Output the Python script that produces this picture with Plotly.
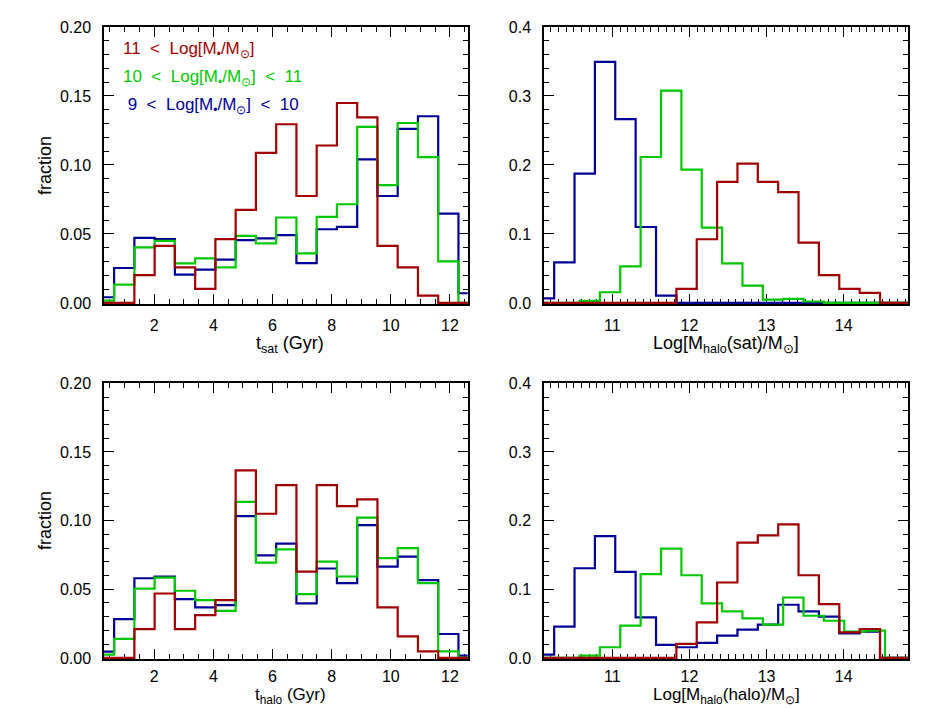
import plotly.graph_objects as go

# ---------------- data ----------------
t_centers = [0.300, 0.985, 1.670, 2.355, 3.040, 3.725, 4.410, 5.095, 5.780, 6.465,
             7.150, 7.835, 8.520, 9.205, 9.890, 10.575, 11.260, 11.945, 12.630]
t_width = 0.685

mass_centers = [10.113, 10.377, 10.641, 10.905, 11.169, 11.434, 11.698, 11.962, 12.226, 12.490,
                12.754, 13.018, 13.282, 13.546, 13.810, 14.075, 14.339, 14.603, 14.867]
mass_centers_green = [10.178, 10.442, 10.706, 10.970, 11.234, 11.499, 11.763, 12.027, 12.291, 12.555,
                      12.819, 13.083, 13.347, 13.611, 13.875, 14.140, 14.404, 14.668, 14.932]
mass_width = 0.2641

tsat_red = [0, 0, 0.0202, 0.0414, 0.0258, 0.0101, 0.0462, 0.0674, 0.1088, 0.1295,
            0.0775, 0.1141, 0.1449, 0.1345, 0.0414, 0.0258, 0.0053, 0, 0]
tsat_green = [0.0017, 0.0132, 0.0402, 0.0450, 0.0286, 0.0323, 0.0258, 0.0486, 0.0431, 0.0619,
              0.0359, 0.0623, 0.0715, 0.1276, 0.0854, 0.1304, 0.1057, 0.0301, 0]
tsat_blue = [0.0041, 0.0253, 0.0472, 0.0462, 0.0205, 0.0241, 0.0313, 0.0455, 0.0467, 0.0491,
             0.0289, 0.0534, 0.0551, 0.1040, 0.0775, 0.1261, 0.1353, 0.0647, 0.0070]

thalo_red = [0, 0, 0.0210, 0.0469, 0.0210, 0.0312, 0.0421, 0.1366, 0.1050, 0.1258,
             0.0629, 0.1258, 0.1105, 0.1154, 0.0368, 0.0157, 0.0048, 0, 0]
thalo_green = [0.0024, 0.0138, 0.0505, 0.0585, 0.0489, 0.0421, 0.0343, 0.1137, 0.0694, 0.0791,
               0.0464, 0.0701, 0.0593, 0.1021, 0.0726, 0.0800, 0.0544, 0.0048, 0]
thalo_blue = [0.0046, 0.0283, 0.0580, 0.0593, 0.0428, 0.0368, 0.0385, 0.1033, 0.0747, 0.0832,
              0.0397, 0.0651, 0.0544, 0.0967, 0.0665, 0.0738, 0.0566, 0.0174, 0.0017]

msat_red = [0, 0, 0, 0, 0, 0, 0, 0.0202, 0.0923, 0.1755,
            0.2019, 0.1755, 0.1606, 0.0875, 0.0404, 0.0202, 0.0144, 0, 0]
msat_green = [0, 0, 0.0029, 0.0154, 0.0529, 0.2115, 0.3077, 0.1933, 0.1090, 0.0572,
              0.0250, 0.0048, 0.0058, 0.0020, 0, 0, 0, 0, 0]
msat_blue = [0.0067, 0.0587, 0.1875, 0.3495, 0.2663, 0.1100, 0.0106, 0, 0, 0,
             0, 0, 0, 0, 0, 0, 0, 0, 0]

mhalo_red = [0, 0, 0, 0, 0, 0, 0, 0.0203, 0.0518, 0.1098,
             0.1679, 0.1785, 0.1944, 0.1204, 0.0783, 0.0373, 0.0421, 0, 0]
mhalo_green = [0, 0, 0.0034, 0.0155, 0.0469, 0.1219, 0.1591, 0.1204, 0.0793, 0.0677,
               0.0576, 0.0484, 0.0880, 0.0614, 0.0541, 0.0382, 0.0396, 0, 0]
mhalo_blue = [0.0048, 0.0455, 0.1306, 0.1775, 0.1253, 0.0590, 0.0189, 0.0155, 0.0218, 0.0324,
              0.0411, 0.0484, 0.0774, 0.0677, 0.0600, 0.0358, 0.0382, 0, 0]

SP = "\u00a0"
legend_labels = [f"11{SP}{SP}<{SP}{SP}Log[M<sub>•</sub>/M<sub>⊙</sub>]",
                 f"10{SP}{SP}<{SP}{SP}Log[M<sub>•</sub>/M<sub>⊙</sub>]{SP}{SP}<{SP}{SP}11",
                 f"{SP}9{SP}{SP}<{SP}{SP}Log[M<sub>•</sub>/M<sub>⊙</sub>]{SP}{SP}<{SP}{SP}10"]

RED, GREEN, BLUE = "#a00000", "#00c800", "#000096"
FONT = "Liberation Sans, Arial, sans-serif"
W, H = 945, 709
OX, OY = 8, 8   # page body offset of the rendered figure


def px(x):
    return (x - OX) / W


def py(y):
    return 1 - (y - OY) / H


def step_xy(centers, width, values):
    edges = [centers[0] - width / 2]
    for i in range(1, len(centers)):
        edges.append((centers[i - 1] + centers[i]) / 2)
    edges.append(centers[-1] + width / 2)
    return edges, list(values) + [values[-1]]


fig = go.Figure()

panels = [
    ("x", "y", t_centers, t_centers, t_width, tsat_blue, tsat_green, tsat_red),
    ("x2", "y2", mass_centers, mass_centers_green, mass_width, msat_blue, msat_green, msat_red),
    ("x3", "y3", t_centers, t_centers, t_width, thalo_blue, thalo_green, thalo_red),
    ("x4", "y4", mass_centers, mass_centers_green, mass_width, mhalo_blue, mhalo_green, mhalo_red),
]
for xa, ya, cen, cen_g, w, vb, vg, vr in panels:
    for c, v, col in ((cen, vb, BLUE), (cen_g, vg, GREEN), (cen, vr, RED)):
        ex, ey = step_xy(c, w, v)
        fig.add_trace(go.Scatter(x=ex, y=ey, mode="lines", line=dict(color=col, width=2.2, shape="hv"),
                                 xaxis=xa, yaxis=ya, showlegend=False, hoverinfo="skip"))

xl = [px(104), px(467.7)]
xr = [px(544), px(907.7)]
yt = [py(304), py(27)]
yb = [py(659), py(383.3)]

tickfont = dict(family=FONT, size=16, color="black")


def xaxis(domain, anchor, rng, dtick, minor_dtick, tick0, standoff=6):
    return dict(domain=domain, anchor=anchor, range=rng, showgrid=False, zeroline=False,
                automargin=False,
                showline=True, linecolor="black", linewidth=1.5, mirror="allticks",
                ticks="inside", ticklen=10, tickwidth=1.2, tickcolor="black",
                dtick=dtick, tick0=tick0, tickfont=tickfont, ticklabelstandoff=standoff,
                layer="below traces",
                minor=dict(ticks="inside", dtick=minor_dtick, tick0=tick0, ticklen=5,
                           tickwidth=1, tickcolor="black", showgrid=False))


def yaxis(domain, anchor, rng, dtick, minor_dtick, fmt):
    return dict(domain=domain, anchor=anchor, range=rng, showgrid=False, zeroline=False,
                automargin=False,
                showline=True, linecolor="black", linewidth=1.5, mirror="allticks",
                ticks="inside", ticklen=10, tickwidth=1.2, tickcolor="black",
                dtick=dtick, tick0=0, tickformat=fmt, tickfont=tickfont, ticklabelstandoff=8,
                layer="below traces",
                minor=dict(ticks="inside", dtick=minor_dtick, tick0=0, ticklen=5,
                           tickwidth=1, tickcolor="black", showgrid=False))


t_range = [0.30, 12.60]
m_range = [10.113, 14.83]

fig.update_layout(
    width=W, height=H, margin=dict(l=0, r=0, t=0, b=0, pad=0),
    paper_bgcolor="white", plot_bgcolor="white",
    font=dict(family=FONT, size=15, color="black"),
    xaxis=xaxis(xl, "y", t_range, 2, 0.5, 0),
    yaxis=yaxis(yt, "x", [-0.0008, 0.2], 0.05, 0.01, ".2f"),
    xaxis2=xaxis(xr, "y2", m_range, 1, 0.1, 10),
    yaxis2=yaxis(yt, "x2", [-0.0016, 0.4], 0.1, 0.02, ".1f"),
    xaxis3=xaxis(xl, "y3", t_range, 2, 0.5, 0, standoff=2),
    yaxis3=yaxis(yb, "x3", [-0.0008, 0.2], 0.05, 0.01, ".2f"),
    xaxis4=xaxis(xr, "y4", m_range, 1, 0.1, 10, standoff=2),
    yaxis4=yaxis(yb, "x4", [-0.0016, 0.4], 0.1, 0.02, ".1f"),
)

ann = []


def txt(x, y, s, color="black", xanchor="center", angle=0, size=18):
    ann.append(dict(x=px(x), y=py(y), xref="paper", yref="paper", text=s, showarrow=False,
                    xanchor=xanchor, yanchor="middle", textangle=angle,
                    font=dict(family=FONT, size=size, color=color)))


# axis titles
txt(45, 166, "fraction", angle=-90)
txt(45, 521, "fraction", angle=-90)
txt(290, 345, "t<sub>sat</sub> (Gyr)")
txt(726, 345, "Log[M<sub>halo</sub>(sat)/M<sub>⊙</sub>]")
txt(290, 696, "t<sub>halo</sub> (Gyr)", size=17)
txt(726, 696, "Log[M<sub>halo</sub>(halo)/M<sub>⊙</sub>]", size=17)

# legend
for lab, col, yy in zip(legend_labels, (RED, GREEN, BLUE), (50, 78, 106)):
    txt(121, yy, lab, color=col, xanchor="left", size=17)

fig.update_layout(annotations=ann)
fig.write_html("out.html")
